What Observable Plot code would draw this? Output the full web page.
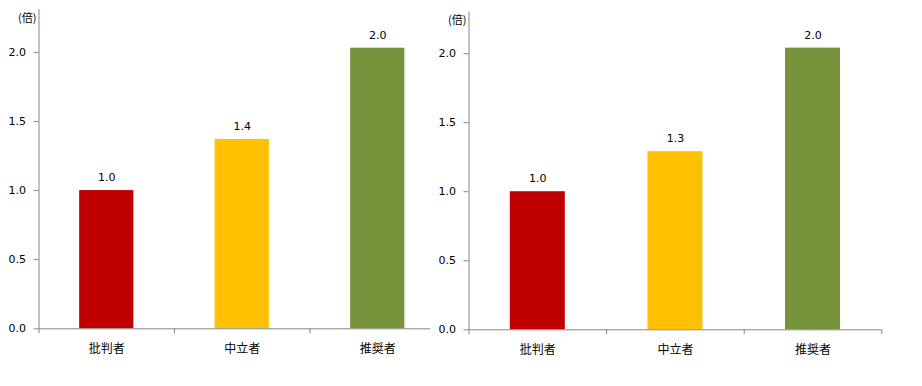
<!DOCTYPE html>
<html>
<head>
<meta charset="utf-8">
<script src="https://cdn.jsdelivr.net/npm/d3@7"></script>
<script src="https://cdn.jsdelivr.net/npm/@observablehq/plot@0.6"></script>
<style>
  html, body { margin: 0; padding: 0; background: #fff; }
  #wrap { position: relative; width: 922px; height: 386px; overflow: hidden; }
  #left, #right { position: absolute; top: 0; }
  #left { left: 0; width: 430px; height: 386px; overflow: hidden; }
  #right { left: 430px; }
  #wrap svg { max-width: none !important; }
</style>
</head>
<body>
<div id="wrap"><div id="left"></div><div id="right"></div></div>
<script>
const categories = ["批判者", "中立者", "推奨者"];
const leftValues = [1.0, 1.37, 2.03];
const rightValues = [1.0, 1.29, 2.04];
const barColors = ["#C00000", "#FFC000", "#77933C"];
const yTicks = [0, 0.5, 1.0, 1.5, 2.0];
const unitLabel = "(倍)";

const axisColor = "#868686";
const numFont = "'DejaVu Sans', Verdana, sans-serif";
const cjkFont = "'Noto Sans CJK JP', sans-serif";

function chart(values, o) {
  const data = categories.map((c, i) => ({i, cat: c, value: values[i], color: barColors[i]}));
  const step = (o.width - o.ml - o.mr) / categories.length;
  const inset = step * 0.3;
  return Plot.plot({
    width: o.width,
    height: 386,
    marginLeft: o.ml,
    marginRight: o.mr,
    marginTop: o.mt,
    marginBottom: o.mb,
    style: {fontFamily: numFont, fontSize: "11px", background: "transparent", overflow: "visible", color: "#000"},
    x: {type: "linear", domain: [0, categories.length], axis: null},
    y: {domain: [0, o.yMax], axis: null},
    color: {type: "identity"},
    marks: [
      Plot.rectY(data, {x1: "i", x2: d => d.i + 1, y: "value", fill: "color", insetLeft: inset, insetRight: inset}),
      Plot.ruleX([0], {stroke: axisColor, strokeWidth: 1}),
      Plot.ruleY([0], {stroke: axisColor, strokeWidth: 1}),
      Plot.axisY({ticks: yTicks, tickSize: 5, tickPadding: 8, tickFormat: d3.format(".1f"), stroke: axisColor, fill: "#000", label: null}),
      Plot.axisX({ticks: d3.range(categories.length + 1), tickSize: 5, tickFormat: () => "", stroke: axisColor, label: null}),
      Plot.text(data, {x: d => d.i + 0.5, text: "cat", frameAnchor: "bottom", dy: 20, lineAnchor: "middle", fontFamily: cjkFont, fontSize: 12, fill: "#000"}),
      Plot.text(data, {x: d => d.i + 0.5, y: "value", text: d => d.value.toFixed(1), dy: -13, lineAnchor: "middle", fill: "#000"}),
      Plot.text([unitLabel], {frameAnchor: "top-left", text: d => d, dx: -2.5, dy: o.unitDy, textAnchor: "end", lineAnchor: "middle", fontFamily: cjkFont, fontSize: 11, fill: "#000"})
    ]
  });
}

document.getElementById("left").append(chart(leftValues, {width: 450, ml: 38.5, mr: 5, mt: 9, mb: 57.7, yMax: 2.31, unitDy: 9.3}));
document.getElementById("right").append(chart(rightValues, {width: 492, ml: 38.5, mr: 40.7, mt: 11.7, mb: 56.7, yMax: 2.30, unitDy: 8.3}));
</script>
</body>
</html>
